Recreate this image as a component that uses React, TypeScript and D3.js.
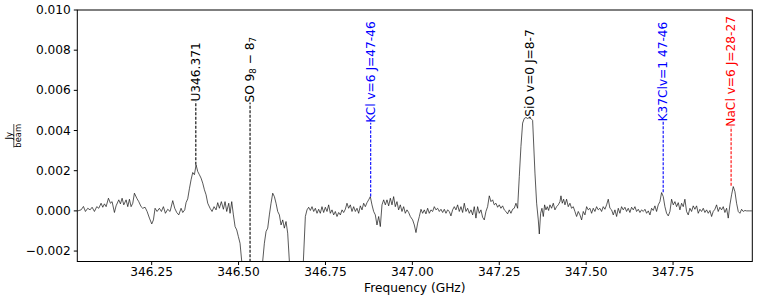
import React from "react";
import * as d3 from "d3";

// Spectrum: [frequency GHz, flux mJy/beam]
const spectrum: [number, number][] = [
  [346.0374, 0.0], [346.047, 0.05], [346.0537, 0.22], [346.0594, -0.03], [346.0661, 0.13],
  [346.0728, 0.05], [346.0786, 0.18], [346.0853, -0.03], [346.092, 0.21], [346.0978, 0.13],
  [346.1045, 0.38], [346.1093, 0.18], [346.1141, 0.35], [346.1189, 0.21], [346.1256, 0.63],
  [346.1313, 0.38], [346.1361, 0.46], [346.1428, -0.08], [346.1476, 0.25], [346.1553, 0.55],
  [346.1601, 0.35], [346.1649, 0.63], [346.1697, 0.3], [346.1764, 0.55], [346.1812, 0.21],
  [346.186, 0.58], [346.1908, 0.21], [346.1956, 0.38], [346.2003, 0.88], [346.2071, 0.63],
  [346.2128, 0.46], [346.2195, 0.21], [346.2243, 0.13], [346.231, 0.18], [346.2368, -0.03],
  [346.2435, -0.36], [346.2502, -0.65], [346.255, -0.45], [346.2598, 0.13], [346.2655, -0.03],
  [346.2722, 0.13], [346.278, -0.03], [346.2837, 0.21], [346.2895, -0.12], [346.2962, 0.08],
  [346.3029, -0.03], [346.3106, 0.51], [346.3163, 0.13], [346.3221, -0.08], [346.3279, -0.2],
  [346.3346, 0.13], [346.3394, -0.08], [346.3451, 0.05], [346.3489, 0.41], [346.3537, 0.6],
  [346.3585, 1.1], [346.3633, 1.55],
  [346.3681, 1.91], [346.3729, 1.8], [346.3777, 2.29], [346.3825, 1.96], [346.3873, 1.8],
  [346.3921, 1.63], [346.3969, 1.38], [346.4017, 1.05], [346.4065, 0.8], [346.4113, 0.38],
  [346.418, 0.13], [346.4237, -0.03], [346.4295, 0.21], [346.4352, 0.05], [346.44, 0.41],
  [346.4448, 0.13], [346.4505, 0.46], [346.4563, 0.08], [346.4611, 0.46], [346.4659, -0.03],
  [346.4717, 0.38], [346.4755, -0.12], [346.4803, 0.46], [346.4851, -0.2], [346.4899, -0.78],
  [346.4947, -0.95], [346.4994, -1.28], [346.5042, -1.61], [346.509, -2.5], [346.5119, -4.5],
  [346.5388, -5.5], [346.5666, -4.5], [346.5694, -2.5], [346.5742, -1.61], [346.579, -1.03],
  [346.5838, -0.86], [346.5886, -0.2], [346.5934, 0.38], [346.5982, 0.88], [346.603, 0.71],
  [346.6078, 0.38], [346.6126, -0.03], [346.6174, -0.2], [346.6222, -0.7], [346.627, -0.45],
  [346.6317, -0.86], [346.6365, -0.53], [346.6413, -1.11], [346.6461, -2.5], [346.649, -4.5],
  [346.6653, -5.5], [346.6826, -4.5], [346.6864, -2.5],
  [346.6921, -0.28], [346.6969, 0.05], [346.7017, 0.18], [346.7065, 0.02], [346.7113, 0.21],
  [346.7161, -0.03], [346.7209, 0.13], [346.7257, -0.12], [346.7304, 0.08], [346.7352, -0.12],
  [346.74, 0.21], [346.7448, -0.08], [346.7496, 0.18], [346.7544, -0.03], [346.7592, 0.3],
  [346.764, -0.12], [346.7688, 0.05], [346.7736, -0.2], [346.7784, -0.03], [346.7832, -0.28],
  [346.788, -0.08], [346.7928, -0.2], [346.7976, 0.05], [346.8023, -0.08], [346.8071, 0.08],
  [346.8119, 0.38], [346.8167, 0.13], [346.8215, 0.3], [346.8263, -0.03], [346.8311, 0.21],
  [346.8359, -0.03], [346.8407, 0.13], [346.8455, -0.12], [346.8503, 0.25], [346.8551, 0.05],
  [346.8599, 0.38], [346.8647, 0.21], [346.8695, 0.41], [346.8742, 0.55], [346.879, 0.71],
  [346.8838, 0.3], [346.8886, -0.03], [346.8934, -0.2], [346.8982, -0.7], [346.903, -0.28],
  [346.9078, -0.78], [346.9126, 0.3], [346.9174, 0.55], [346.9222, 0.3], [346.927, 0.55],
  [346.9318, 0.25], [346.9366, 0.63], [346.9414, 0.3], [346.9461, 0.71], [346.9509, 0.21],
  [346.9557, 0.46], [346.9605, 0.05], [346.9653, 0.3], [346.9701, -0.03], [346.9749, 0.21],
  [346.9797, -0.12], [346.9845, 0.05], [346.9893, -0.08], [346.9941, -0.28],
  [347.0008, -0.45], [347.0056, -0.7], [347.0104, -1.08], [347.0152, -0.61], [347.02, -0.28],
  [347.0248, 0.08], [347.0296, -0.12], [347.0343, 0.05], [347.0391, -0.15], [347.0439, 0.13],
  [347.0487, -0.12], [347.0535, 0.05], [347.0583, -0.03], [347.0631, 0.21], [347.0679, 0.05],
  [347.0727, 0.13], [347.0775, -0.03], [347.0823, 0.08], [347.0871, -0.08], [347.0919, 0.08],
  [347.0967, -0.12], [347.1015, 0.05], [347.1062, -0.03], [347.111, -0.25], [347.1158, 0.05],
  [347.1206, 0.21], [347.1254, 0.05], [347.1302, 0.3], [347.135, -0.03], [347.1398, 0.21],
  [347.1446, -0.08], [347.1494, 0.38], [347.1542, -0.03], [347.159, 0.13], [347.1638, -0.12],
  [347.1686, 0.05], [347.1734, -0.2], [347.1781, 0.21], [347.1829, -0.36], [347.1877, 0.21],
  [347.1925, -0.12], [347.1973, 0.05], [347.2021, -0.32], [347.2069, -0.45], [347.2117, -0.03],
  [347.2165, 0.21], [347.2213, 0.75], [347.2261, 0.46], [347.2309, 0.55], [347.2357, 0.3],
  [347.2405, 0.38], [347.2453, 0.18], [347.25, 0.3], [347.2548, 0.13], [347.2596, 0.25],
  [347.2644, 0.05], [347.2692, -0.03], [347.274, -0.15], [347.2788, 0.05], [347.2836, -0.12],
  [347.2884, 0.08], [347.2932, 0.13], [347.298, 0.38], [347.3028, 0.13], [347.3076, 1.71],
  [347.3124, 3.21], [347.3172, 4.37], [347.322, 4.6], [347.3268, 4.65], [347.3316, 4.6],
  [347.3364, 4.65], [347.3412, 4.6], [347.346, 4.5],
  [347.3527, 1.88], [347.3575, 0.38], [347.3623, -0.45], [347.3652, -1.15], [347.369, -0.12],
  [347.3728, 0.13], [347.3767, -0.28], [347.3805, 0.3], [347.3843, 0.05], [347.3881, 0.21],
  [347.392, 0.02], [347.3958, 0.3], [347.4006, 0.13], [347.4054, 0.38], [347.4102, 0.05],
  [347.415, 0.21], [347.4198, 0.3], [347.4246, 0.46], [347.4275, 0.75], [347.4313, 0.38],
  [347.4352, 0.58], [347.439, 0.3], [347.4437, 0.58], [347.4485, 0.21], [347.4533, 0.38],
  [347.4581, 0.13], [347.4629, 0.21], [347.4677, -0.03], [347.4725, -0.28], [347.4773, -0.03],
  [347.4821, -0.2], [347.4869, -0.45], [347.4917, -0.03], [347.4965, -0.2], [347.5013, 0.21],
  [347.5061, 0.05], [347.5109, 0.13], [347.5157, -0.12], [347.5204, 0.13], [347.5252, -0.03],
  [347.53, 0.21], [347.5348, 0.05], [347.5396, 0.13], [347.5444, -0.03], [347.5492, 0.21],
  [347.554, 0.08], [347.5588, 0.3], [347.5636, 0.58], [347.5684, 0.13], [347.5732, 0.05],
  [347.578, -0.2], [347.5828, 0.05], [347.5876, -0.28], [347.5924, 0.13], [347.5971, -0.12],
  [347.6019, 0.21], [347.6067, 0.05], [347.6115, 0.18], [347.6163, -0.03], [347.6211, 0.13],
  [347.6259, -0.08], [347.6307, 0.18], [347.6355, 0.05], [347.6403, 0.21],
  [347.6451, -0.03], [347.6499, 0.08], [347.6547, -0.08], [347.6595, 0.05], [347.6643, -0.03],
  [347.6691, 0.08], [347.6739, -0.12], [347.6787, 0.0], [347.6835, -0.2], [347.6883, 0.13],
  [347.693, 0.02], [347.6978, 0.25], [347.7026, -0.03], [347.7074, 0.3], [347.7122, 0.46],
  [347.717, 0.91], [347.7218, 0.71], [347.7266, 0.21], [347.7314, -0.12], [347.7362, -0.25],
  [347.741, -0.03], [347.7458, 0.58], [347.7506, 0.3], [347.7554, 0.46], [347.7602, 0.21],
  [347.765, 0.41], [347.7698, 0.05], [347.7746, 0.38], [347.7793, 0.21], [347.7841, 0.58],
  [347.7889, -0.03], [347.7937, -0.2], [347.7985, 0.13], [347.8033, -0.03], [347.8081, 0.25],
  [347.8129, 0.08], [347.8177, 0.25], [347.8225, -0.12], [347.8273, 0.08], [347.8321, -0.03],
  [347.8369, 0.13], [347.8417, -0.08], [347.8465, 0.05], [347.8513, -0.12], [347.8561, 0.02],
  [347.8609, -0.28], [347.8656, -0.03], [347.8704, 0.08], [347.8752, 0.3], [347.88, -0.03],
  [347.8848, 0.18], [347.8896, 0.05], [347.8944, 0.21], [347.8992, -0.08], [347.904, 0.13],
  [347.9088, -0.36], [347.9136, 0.3], [347.9184, 0.8], [347.9232, 1.21], [347.928, 0.96],
  [347.9328, 0.38], [347.9376, -0.03], [347.9424, -0.12], [347.9472, 0.08], [347.9519, -0.03],
  [347.9567, 0.02], [347.9615, 0.0], [347.971, 0.0], [347.9767, 0.0],
];

// Line identifications
const lineNames = ["U346.371", "SO", "KCl v=6 J=47-46", "SiO v=0 J=8-7", "K37Clv=1 47-46", "NaCl v=6 J=28-27"];
const lineFreqs = [346.377, 346.533, 346.8801, 347.3383, 347.7216, 347.917];
const linePeaks = [2.3, -5.0, 0.71, 4.6, 0.93, 1.25]; // mJy/beam
const labelLevels = [5.44, 5.39, 4.39, 4.69, 4.45, 4.19]; // mJy/beam
const lineColors = ["#000000", "#000000", "#0000ff", "#000000", "#0000ff", "#ff0000"];

const xTicks = [346.25, 346.5, 346.75, 347.0, 347.25, 347.5, 347.75];
const yTicks = [-0.002, 0.0, 0.002, 0.004, 0.006, 0.008, 0.01];

const W = 761;
const H = 299;
const L = 77.3, R = 752.3, T = 10, B = 261.5;
const FONT = "DejaVu Sans";

export default function App() {
  const x = d3.scaleLinear().domain([346.036, 347.978]).range([L, R]);
  const y = d3.scaleLinear().domain([-0.00252, 0.01]).range([B, T]);
  const line = d3
    .line<[number, number]>()
    .x((d) => x(d[0]))
    .y((d) => y(d[1] / 1000));
  const fs = 12.2;

  return (
    <svg width={W} height={H} style={{ position: "absolute", left: 0, top: 0, background: "#fff" }}>
      <defs>
        <clipPath id="plotclip">
          <rect x={L} y={T} width={R - L} height={B - T} />
        </clipPath>
      </defs>
      <rect x={0} y={0} width={W} height={H} fill="#fff" />
      <g clipPath="url(#plotclip)">
        <path d={line(spectrum) || ""} fill="none" stroke="#111" strokeWidth={0.7} strokeLinejoin="round" />
        {lineFreqs.map((f, i) => (
          <line
            key={i}
            x1={x(f)}
            x2={x(f)}
            y1={y(linePeaks[i] / 1000)}
            y2={y(labelLevels[i] / 1000)}
            stroke={lineColors[i]}
            strokeWidth={1.1}
            strokeDasharray="3,1.5"
          />
        ))}
      </g>
      {lineFreqs.map((f, i) => (
        <text
          key={i}
          transform={`translate(${x(f)},${y(labelLevels[i] / 1000)}) rotate(-90)`}
          fontFamily={FONT}
          fontSize={fs}
          fill={lineColors[i]}
          dominantBaseline="central"
          textAnchor="start"
        >
          {lineNames[i] === "SO" ? (
            <>
              SO 9<tspan dy={3} fontSize={8.6}>8</tspan>
              <tspan dy={-3}> − 8</tspan>
              <tspan dy={3} fontSize={8.6}>7</tspan>
            </>
          ) : (
            lineNames[i]
          )}
        </text>
      ))}
      {/* frame */}
      <rect x={L} y={T} width={R - L} height={B - T} fill="none" stroke="#000" strokeWidth={1} />
      {/* x ticks */}
      {xTicks.map((t) => (
        <g key={t}>
          <line x1={x(t)} x2={x(t)} y1={B} y2={B + 3.5} stroke="#000" strokeWidth={1} />
          <text x={x(t)} y={B + 14} textAnchor="middle" fontFamily={FONT} fontSize={fs} fill="#000">
            {t.toFixed(2)}
          </text>
        </g>
      ))}
      {/* y ticks */}
      {yTicks.map((t) => (
        <g key={t}>
          <line x1={L - 3.5} x2={L} y1={y(t)} y2={y(t)} stroke="#000" strokeWidth={1} />
          <text
            x={L - 6.5}
            y={y(t)}
            textAnchor="end"
            dominantBaseline="central"
            fontFamily={FONT}
            fontSize={fs}
            fill="#000"
          >
            {(t < 0 ? "\u2212" : "") + Math.abs(t).toFixed(3)}
          </text>
        </g>
      ))}
      <text x={(L + R) / 2} y={292} textAnchor="middle" fontFamily={FONT} fontSize={fs} fill="#000">
        Frequency (GHz)
      </text>
      <g transform={`translate(13.8,${(T + B) / 2}) rotate(-90)`}>
        <text x={0} y={-2.2} textAnchor="middle" fontFamily={FONT} fontSize={8.4} fill="#000">
          Jy
        </text>
        <line x1={-11.7} x2={11.7} y1={0} y2={0} stroke="#000" strokeWidth={0.7} />
        <text x={0} y={7.2} textAnchor="middle" fontFamily={FONT} fontSize={8.4} fill="#000">
          beam
        </text>
      </g>
    </svg>
  );
}
